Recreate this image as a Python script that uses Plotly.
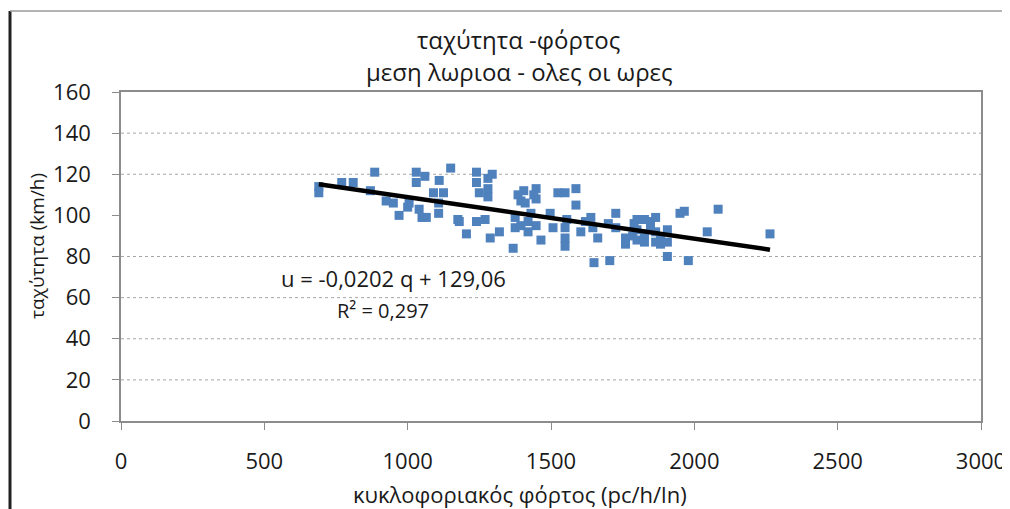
import plotly.graph_objects as go

# ---- data ----
flow_q = [690, 690, 770, 810, 885, 870, 925, 950, 970, 1005, 1030, 1030, 1040, 1050,
          1060, 1065, 1090, 1110, 1125, 1108, 1108, 1150, 1175, 1180, 1205, 1240, 1240,
          1250, 1240, 1270, 1280, 1280, 1280, 1288, 1320, 1295, 1375, 1375, 1368, 1385,
          1395, 1405, 1410, 1420, 1420, 1440, 1448, 1448, 1448, 1465, 1497, 1507, 1524,
          1549, 1549, 1549, 1549, 1587, 1587, 1604, 1639, 1646, 1663, 1650, 1705, 1726,
          1726, 1760, 1760, 1785, 1800, 1800, 1800, 1826, 1826, 1826, 1847, 1847, 1865,
          1865, 1865, 1882, 1882, 1906, 1906, 1906, 1965, 1950, 1979, 2045, 2083, 2264,
          1395, 1430, 1000, 1555, 1620, 1700, 1790]
speed_u = [111, 114, 116, 116, 121, 112, 107, 106, 100, 106, 121, 116, 103, 99,
           119, 99, 111, 117, 111, 106, 101, 123, 98, 97, 91, 121, 116,
           111, 97, 98, 118, 113, 109, 89, 92, 120, 99, 94, 84, 110,
           107, 112, 106, 97, 92, 110, 113, 108, 95, 88, 101, 94, 111,
           111, 94, 89, 85, 113, 105, 92, 99, 94, 89, 77, 78, 101,
           94, 89, 86, 90, 98, 93, 88, 98, 91, 87, 97, 93, 99,
           92, 87, 89, 86, 93, 87, 80, 102, 101, 78, 92, 103, 91,
           95, 101, 104, 98, 97, 96, 96]

trend_slope = -0.0202
trend_intercept = 129.06
equation_text = "u = -0,0202 q + 129,06"
r2_text = "R² = 0,297"

x_ticks = [0, 500, 1000, 1500, 2000, 2500, 3000]
y_ticks = [0, 20, 40, 60, 80, 100, 120, 140, 160]
grid_values = [20, 40, 60, 80, 120, 140]

title_line1 = "ταχύτητα -φόρτος"
title_line2 = "μεση λωριοα - ολες οι ωρες"
x_title = "κυκλοφοριακός φόρτος (pc/h/ln)"
y_title = "ταχύτητα (km/h)"

# ---- figure ----
FONT = "Open Sans, DejaVu Sans"
TXT = "#1a1a1a"
OFF = 8                      # default page body margin
W, H = 1010 - OFF, 509 - OFF
# plot area in page pixels: x 121..981, y 92..421
L, T = 121 - OFF, 92 - OFF
R, B = W - (981 - OFF), H - (421 - OFF)
pw, ph = W - L - R, H - T - B

def px_x(p):              # page pixel -> paper
    return (p - OFF - L) / pw

def px_y(p):
    return 1 - (p - OFF - T) / ph

fig = go.Figure()

fig.add_trace(go.Scatter(
    x=flow_q, y=speed_u, mode="markers",
    marker=dict(symbol="square", size=9, color="#4F81BD"),
    showlegend=False, hoverinfo="x+y",
))

q_lo, q_hi = min(flow_q), max(flow_q)
fig.add_trace(go.Scatter(
    x=[q_lo, q_hi],
    y=[trend_slope * q_lo + trend_intercept, trend_slope * q_hi + trend_intercept],
    mode="lines", line=dict(color="black", width=4.5),
    showlegend=False, hoverinfo="skip",
))

shapes = []
for g in grid_values:
    shapes.append(dict(type="line", xref="paper", yref="y", x0=0, x1=1, y0=g, y1=g,
                       line=dict(color="#A6A6A6", width=1, dash="dot"), layer="below"))
# outer chart frame (left dark edge, top gray edge)
shapes.append(dict(type="line", xref="paper", yref="paper",
                   x0=px_x(10), x1=px_x(10), y0=px_y(11), y1=px_y(509),
                   line=dict(color="#222222", width=3)))
shapes.append(dict(type="line", xref="paper", yref="paper",
                   x0=px_x(10), x1=px_x(1010), y0=px_y(11), y1=px_y(11),
                   line=dict(color="#9A9A9A", width=1.5)))

annotations = [
    dict(text=title_line1, xref="paper", yref="paper", x=px_x(518), y=px_y(39),
         showarrow=False, font=dict(family=FONT, size=24, color=TXT),
         xanchor="center", yanchor="middle"),
    dict(text=title_line2, xref="paper", yref="paper", x=px_x(519), y=px_y(71),
         showarrow=False, font=dict(family=FONT, size=24, color=TXT),
         xanchor="center", yanchor="middle"),
    dict(text=x_title, xref="paper", yref="paper", x=px_x(520), y=px_y(494),
         showarrow=False, font=dict(family=FONT, size=22, color=TXT),
         xanchor="center", yanchor="middle"),
    dict(text=y_title, xref="paper", yref="paper", x=px_x(37), y=px_y(246),
         showarrow=False, textangle=-90, font=dict(family=FONT, size=19, color=TXT),
         xanchor="center", yanchor="middle"),
    dict(text=equation_text, xref="x", yref="y", x=550, y=69.5,
         showarrow=False, font=dict(family=FONT, size=22, color=TXT),
         xanchor="left", yanchor="middle"),
    dict(text=r2_text, xref="x", yref="y", x=745, y=53.5,
         showarrow=False, font=dict(family=FONT, size=20, color=TXT),
         xanchor="left", yanchor="middle"),
]

fig.update_layout(
    width=W, height=H,
    margin=dict(l=L, r=R, t=T, b=B, autoexpand=False),
    paper_bgcolor="white", plot_bgcolor="white",
    shapes=shapes, annotations=annotations,
    font=dict(family=FONT, size=22, color=TXT),
    xaxis=dict(range=[0, 3000], tickvals=x_ticks, showgrid=False, zeroline=False,
               showline=True, linecolor="#8C8C8C", linewidth=1.5, mirror=True,
               ticks="outside", ticklen=7, tickcolor="#8C8C8C", automargin=False,
               ticklabelstandoff=13, tickfont=dict(family=FONT, size=22, color=TXT)),
    yaxis=dict(range=[0, 160], tickvals=y_ticks, showgrid=False, zeroline=False,
               showline=True, linecolor="#8C8C8C", linewidth=1.5, mirror=True,
               ticks="outside", ticklen=7, tickcolor="#8C8C8C", automargin=False,
               ticklabelstandoff=17, tickfont=dict(family=FONT, size=22, color=TXT)),
)

fig.write_html("out.html")
